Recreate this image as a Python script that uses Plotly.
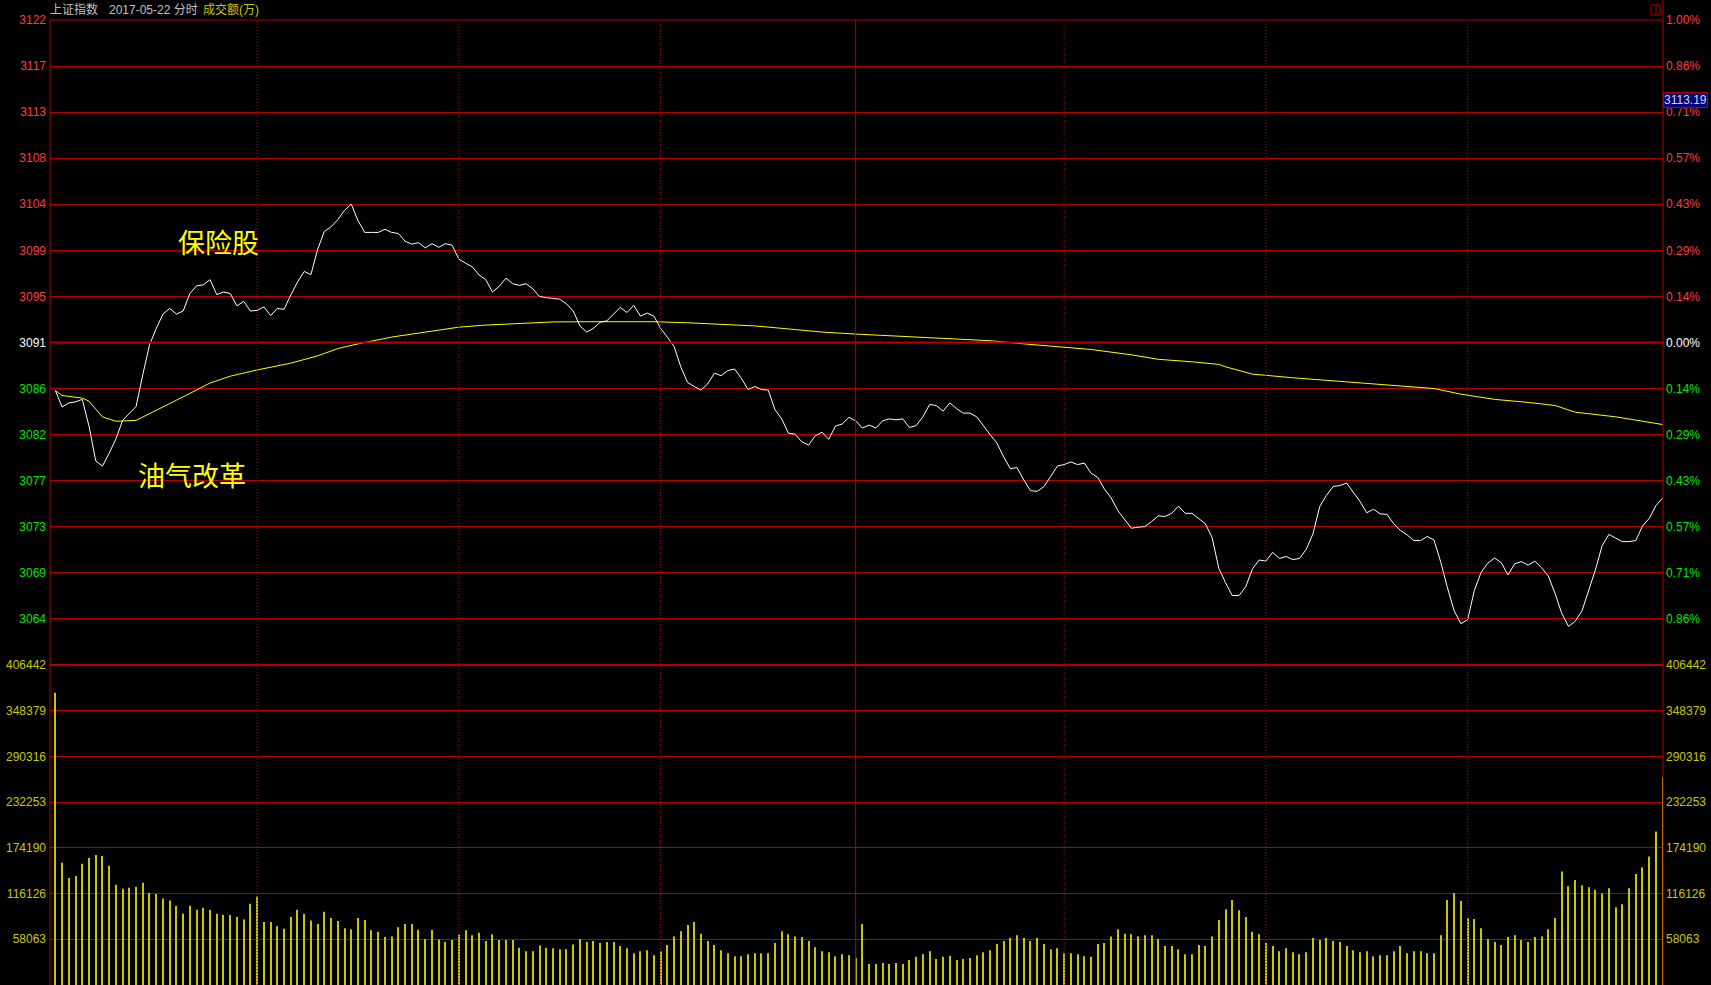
import plotly.graph_objects as go

# 上证指数 2017-05-22 intraday, one point per minute
PREV_CLOSE = 3090.63

PRICE = [
    3086.02, 3084.45, 3084.84, 3084.94, 3085.18, 3082.62, 3079.28, 3078.79, 3080.02, 3081.39,
    3083.17, 3083.86, 3084.50, 3087.55, 3090.40, 3091.98, 3093.35, 3093.90, 3093.35, 3093.65,
    3095.32, 3096.06, 3096.16, 3096.65, 3095.22, 3095.47, 3095.32, 3094.14, 3094.58, 3093.65,
    3093.70, 3094.04, 3093.21, 3093.90, 3093.80, 3095.18, 3096.41, 3097.44, 3097.14, 3099.56,
    3101.28, 3101.72, 3102.41, 3103.30, 3103.89, 3102.31, 3101.18, 3101.18, 3101.18, 3101.48,
    3101.18, 3101.08, 3100.34, 3100.05, 3100.20, 3099.70, 3100.10, 3099.75, 3100.10, 3099.95,
    3098.62, 3098.23, 3097.88, 3097.10, 3096.65, 3095.47, 3096.01, 3096.80, 3096.26, 3096.11,
    3096.26, 3095.77, 3095.03, 3094.93, 3094.83, 3094.78, 3094.34, 3093.65, 3092.22, 3091.63,
    3091.98, 3092.57, 3092.71, 3093.35, 3093.99, 3093.50, 3094.19, 3093.16, 3093.45, 3093.16,
    3091.98, 3091.14, 3090.25, 3088.29, 3086.81, 3086.41, 3086.07, 3086.66, 3087.69, 3087.45,
    3087.94, 3088.09, 3087.20, 3086.12, 3086.41, 3086.12, 3086.07, 3084.20, 3083.31, 3081.94,
    3081.84, 3081.10, 3080.80, 3081.69, 3082.03, 3081.35, 3082.62, 3082.82, 3083.46, 3083.12,
    3082.43, 3082.72, 3082.43, 3083.12, 3083.31, 3083.22, 3083.31, 3082.48, 3082.67, 3083.51,
    3084.69, 3084.59, 3084.05, 3084.84, 3084.30, 3083.86, 3083.86, 3083.51, 3082.62, 3081.79,
    3081.00, 3079.67, 3078.54, 3078.64, 3077.46, 3076.42, 3076.37, 3076.82, 3077.80, 3078.79,
    3078.93, 3079.18, 3078.93, 3079.08, 3078.10, 3077.70, 3076.57, 3075.73, 3074.50, 3073.67,
    3072.83, 3072.93, 3072.98, 3073.47, 3074.01, 3073.96, 3074.26, 3074.95, 3074.26, 3074.26,
    3073.77, 3073.27, 3071.94, 3068.99, 3067.61, 3066.38, 3066.38, 3067.22, 3068.94, 3069.78,
    3069.68, 3070.52, 3069.93, 3070.12, 3069.83, 3069.93, 3070.81, 3072.29, 3074.90, 3075.98,
    3076.82, 3076.92, 3077.16, 3076.28, 3075.39, 3074.31, 3074.65, 3074.21, 3074.16, 3073.27,
    3072.63, 3072.19, 3071.65, 3071.65, 3072.04, 3071.70, 3069.58, 3067.12, 3064.91, 3063.68,
    3064.07, 3066.87, 3068.60, 3069.48, 3069.98, 3069.53, 3068.35, 3069.43, 3069.63, 3069.29,
    3069.68, 3069.04, 3068.25, 3066.58, 3064.66, 3063.43, 3063.92, 3064.91, 3066.87, 3068.84,
    3071.16, 3072.24, 3071.89, 3071.55, 3071.55, 3071.65, 3073.03, 3073.77, 3075.00, 3075.73,
]

# 成交额 (万)
VOLUME = [
    371150, 155350, 135850, 138450, 154050, 161200, 165100, 163800, 151450, 127400,
    122200, 123500, 124800, 130000, 117000, 115700, 109850, 107250, 100750, 90350,
    100750, 95550, 98150, 95550, 90350, 89050, 89050, 86450, 83200, 103350,
    112450, 79950, 79950, 74750, 71500, 86450, 95550, 90350, 81900, 77350,
    92950, 85150, 81250, 72150, 70850, 85150, 82550, 69550, 67600, 61100,
    61750, 73450, 77350, 77350, 70200, 58500, 70200, 57850, 54600, 57200,
    63700, 69550, 63050, 66300, 55900, 64350, 57200, 57200, 57200, 47450,
    42900, 42900, 50050, 47450, 46800, 45500, 45500, 51350, 58500, 54600,
    55900, 53300, 54600, 54600, 49400, 46800, 40300, 42900, 44200, 37700,
    42900, 50700, 61750, 68250, 76050, 79950, 65000, 55900, 50700, 44200,
    40300, 36400, 36400, 39000, 40300, 40300, 40300, 53300, 68250, 64350,
    61750, 61100, 55900, 48100, 42900, 41600, 36400, 39000, 37700, 34450,
    77350, 26650, 26650, 27950, 26650, 27950, 26650, 31850, 35750, 39000,
    42900, 33150, 35750, 37050, 31850, 33150, 34450, 37700, 41600, 44200,
    52000, 55900, 59800, 63050, 59800, 55900, 59800, 52000, 45500, 46800,
    40300, 40300, 39000, 36400, 35750, 52000, 53300, 61750, 70850, 65000,
    64350, 61750, 63050, 63050, 58500, 49400, 49400, 45500, 39000, 39000,
    50700, 49400, 61750, 82550, 96200, 107900, 94900, 86450, 67600, 64350,
    53300, 49400, 42900, 46800, 41600, 39000, 41600, 59800, 57200, 59800,
    55900, 54600, 49400, 44200, 41600, 42900, 36400, 37700, 37700, 42900,
    49400, 40300, 42900, 42900, 40300, 40300, 63050, 107900, 117000, 106600,
    85150, 83850, 72150, 58500, 54600, 50700, 61100, 63050, 57200, 54600,
    61100, 61750, 70850, 85150, 144300, 125450, 133250, 126750, 124150, 120900,
    116350, 122850, 98800, 102700, 122850, 141050, 149500, 163150, 195000, 263250,
]

MINUTES = list(range(len(PRICE)))

# average price line, read at selected minutes
AVG_MIN = [0, 1, 4, 5, 7, 9, 12, 15, 18, 20, 23, 26, 30, 35, 39, 42, 45, 50, 57, 60,
           64, 69, 74, 79, 89, 94, 99, 104, 109, 114, 119, 124, 129, 134, 139, 144, 150, 154, 160, 164,
           169, 173, 174, 178, 184, 189, 194, 200, 205, 209, 214, 219, 223, 226, 232, 239]
AVG_PRICE = [3086.02, 3085.55, 3085.30, 3085.00, 3083.50, 3083.08, 3083.17, 3084.10, 3085.10, 3085.75,
             3086.75, 3087.40, 3088.00, 3088.65, 3089.35, 3090.05, 3090.50, 3091.15, 3091.85, 3092.10,
             3092.30, 3092.47, 3092.60, 3092.62, 3092.62, 3092.52, 3092.37, 3092.22, 3091.93, 3091.63,
             3091.44, 3091.29, 3091.09, 3090.94, 3090.80, 3090.50, 3090.16, 3089.96, 3089.45, 3089.02,
             3088.78, 3088.53, 3088.30, 3087.60, 3087.25, 3087.01, 3086.76, 3086.51, 3086.22, 3085.68,
             3085.18, 3084.89, 3084.59, 3083.95, 3083.51, 3082.77]

PRICE_LABELS = ["3122", "3117", "3113", "3108", "3104", "3099", "3095",
                "3091", "3086", "3082", "3077", "3073", "3069", "3064"]
PCT_LABELS = ["1.00%", "0.86%", "0.71%", "0.57%", "0.43%", "0.29%", "0.14%",
              "0.00%", "0.14%", "0.29%", "0.43%", "0.57%", "0.71%", "0.86%"]
VOL_TICKS = [58063, 116126, 174190, 232253, 290316, 348379, 406442]

W, H = 1711, 985
ML, MR, MT, MB = 50, 48, 20, 0
SPLIT = (H - 665) / (H - MT - MB)

GRID = "#b40000"
UP = "#ff3c3c"
DOWN = "#00e600"
VOLC = "#c8c800"
FONT = "Liberation Sans, Arial, Noto Sans CJK SC"

price_ticks = [PREV_CLOSE * (1 + k / 700) for k in range(7, -7, -1)]


def colored(labels):
    out = []
    for k, lab in zip(range(7, -7, -1), labels):
        color = UP if k > 0 else ("#ffffff" if k == 0 else DOWN)
        out.append(f'<span style="color:{color}">{lab}</span>')
    return out


fig = go.Figure()

fig.add_trace(go.Bar(
    x=MINUTES, y=VOLUME, yaxis="y3", width=0.16,
    marker=dict(color=VOLC, line=dict(width=0)),
))
fig.add_trace(go.Scatter(
    x=AVG_MIN, y=AVG_PRICE, mode="lines", line=dict(color="#ffff00", width=1),
))
fig.add_trace(go.Scatter(
    x=MINUTES, y=PRICE, mode="lines", line=dict(color="#ffffff", width=1),
))
# empty traces so the right-hand axes get drawn
fig.add_trace(go.Scatter(x=[], y=[], yaxis="y2", hoverinfo="skip"))
fig.add_trace(go.Scatter(x=[], y=[], yaxis="y4", hoverinfo="skip"))

price_range = [PREV_CLOSE * 0.99, PREV_CLOSE * 1.01]
tickfont = dict(family=FONT, size=12)

fig.update_layout(
    width=W, height=H,
    margin=dict(l=ML, r=MR, t=MT, b=MB),
    paper_bgcolor="#000000", plot_bgcolor="#000000",
    showlegend=False,
    xaxis=dict(range=[-0.8, 239.05], visible=False),
    yaxis=dict(domain=[SPLIT, 1], range=price_range, tickvals=price_ticks,
               ticktext=colored(PRICE_LABELS), showgrid=True, gridcolor=GRID,
               gridwidth=1, zeroline=False, ticks="", tickfont=tickfont,
               ticklabelstandoff=3),
    yaxis2=dict(overlaying="y", side="right", anchor="x", range=price_range,
                tickvals=price_ticks, ticktext=colored(PCT_LABELS), showgrid=False,
                zeroline=False, ticks="", tickfont=tickfont, ticklabelstandoff=2),
    yaxis3=dict(domain=[0, SPLIT], range=[0, VOL_TICKS[-1]], tickvals=VOL_TICKS,
                ticktext=[str(v) for v in VOL_TICKS], showgrid=True, gridcolor=GRID,
                gridwidth=1, zeroline=False, ticks="",
                tickfont=dict(family=FONT, size=12, color=VOLC), ticklabelstandoff=3),
    yaxis4=dict(overlaying="y3", side="right", anchor="x", range=[0, VOL_TICKS[-1]],
                tickvals=VOL_TICKS, ticktext=[str(v) for v in VOL_TICKS], showgrid=False,
                zeroline=False, ticks="", tickfont=dict(family=FONT, size=12, color=VOLC),
                ticklabelstandoff=2),
)

# axis frame, 0% line and panel separator
fig.add_shape(type="line", xref="paper", yref="paper", x0=0, x1=0, y0=0, y1=1,
              line=dict(color=GRID, width=1))
fig.add_shape(type="line", xref="paper", yref="paper", x0=1, x1=1, y0=0, y1=1 + MT / (H - MT),
              line=dict(color=GRID, width=1))
fig.add_shape(type="line", xref="paper", yref="y", x0=0, x1=1, y0=PREV_CLOSE, y1=PREV_CLOSE,
              line=dict(color=GRID, width=2))
fig.add_shape(type="line", xref="paper", yref="paper", x0=0, x1=1, y0=SPLIT, y1=SPLIT,
              line=dict(color=GRID, width=2))
fig.add_shape(type="line", xref="paper", yref="paper", x0=0, x1=1, y0=1, y1=1,
              line=dict(color=GRID, width=1))

# half-hour separators
for m in [30, 60, 90, 150, 180, 210]:
    fig.add_shape(type="line", xref="x", yref="paper", x0=m, x1=m, y0=0, y1=1,
                  line=dict(color=GRID, width=1, dash="1px,2px"))
fig.add_shape(type="line", xref="x", yref="paper", x0=119, x1=119, y0=0, y1=1,
              line=dict(color=GRID, width=1))

# small icon at top right
fig.add_shape(type="rect", xref="paper", yref="paper", xsizemode="pixel", ysizemode="pixel",
              xanchor=1, yanchor=1, x0=-12, x1=-3, y0=5, y1=15,
              line=dict(color=GRID, width=1))
fig.add_shape(type="line", xref="paper", yref="paper", xsizemode="pixel", ysizemode="pixel",
              xanchor=1, yanchor=1, x0=-7, x1=-7, y0=5, y1=15,
              line=dict(color=GRID, width=1))

# header
fig.add_annotation(text="上证指数", xref="paper", yref="paper", x=0, y=1, xanchor="left",
                   yanchor="bottom", showarrow=False, font=dict(family=FONT, size=12, color="#c0c0c0"),
                   yshift=1, xshift=-2)
fig.add_annotation(text="2017-05-22 分时", xref="paper", yref="paper", x=0, y=1, xanchor="left",
                   yanchor="bottom", showarrow=False, font=dict(family=FONT, size=12, color="#c0c0c0"),
                   yshift=1, xshift=57)
fig.add_annotation(text="成交额(万)", xref="paper", yref="paper", x=0, y=1, xanchor="left",
                   yanchor="bottom", showarrow=False, font=dict(family=FONT, size=12, color=VOLC),
                   yshift=1, xshift=151)

# cursor price tag
fig.add_annotation(text="3113.19", xref="paper", yref="paper", x=1, y=(H - 99.5) / (H - MT),
                   xanchor="left", yanchor="middle", showarrow=False,
                   font=dict(family=FONT, size=12, color="#d8d8d8"),
                   bgcolor="#000080", bordercolor=GRID, borderwidth=1, borderpad=0)

# sector notes
fig.add_annotation(text="保险股", x=24.2, y=3100.3, xref="x", yref="y", showarrow=False,
                   font=dict(family="Noto Sans CJK SC", size=27, color="#ffff00"))
fig.add_annotation(text="油气改革", x=20.3, y=3077.97, xref="x", yref="y", showarrow=False,
                   font=dict(family="Noto Sans CJK SC", size=27, color="#ffff00"))

fig.write_html(
    "out.html",
    config={"displayModeBar": False},
    post_script="document.body.style.margin='0';document.body.style.background='#000';",
)
